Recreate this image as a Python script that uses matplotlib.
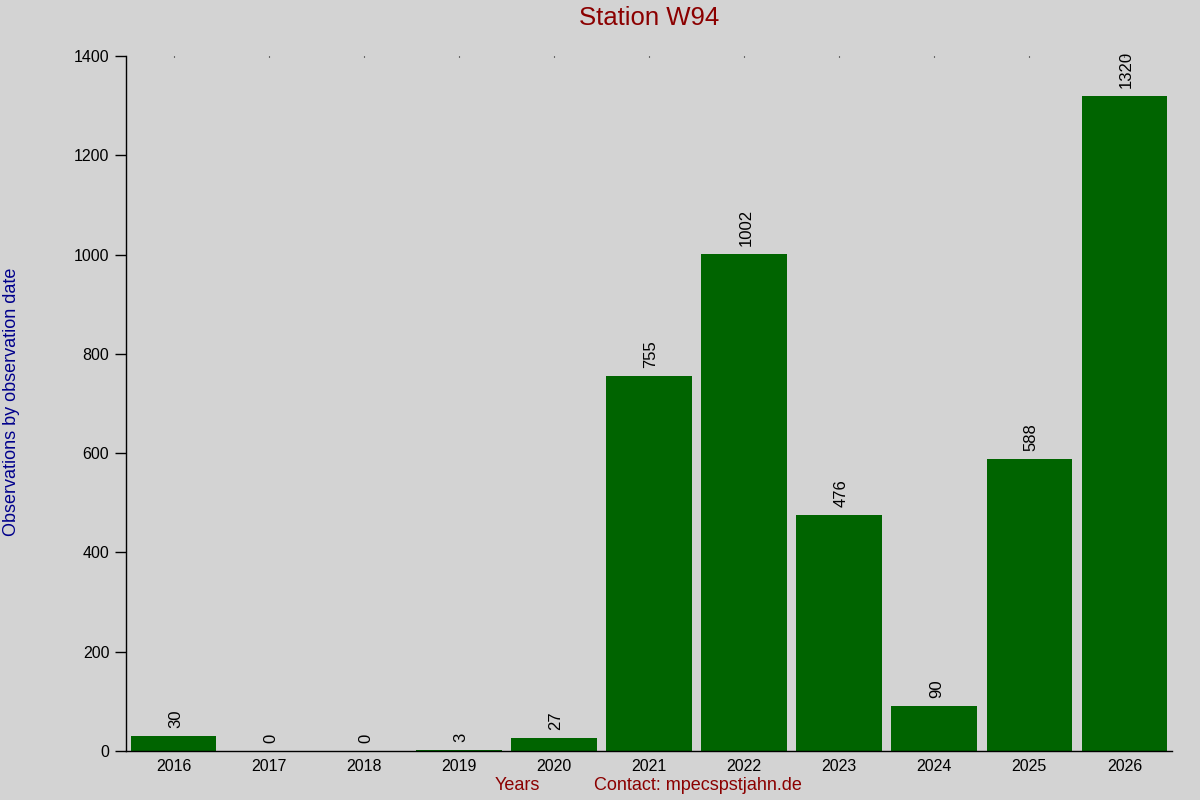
import matplotlib
matplotlib.use("Agg")
import matplotlib.pyplot as plt
import numpy as np

years = ["2016", "2017", "2018", "2019", "2020", "2021", "2022", "2023", "2024", "2025", "2026"]
counts = [30, 0, 0, 3, 27, 755, 1002, 476, 90, 588, 1320]
yticks = [0, 200, 400, 600, 800, 1000, 1200, 1400]

plt.rcParams['font.family'] = ['Liberation Sans', 'DejaVu Sans']

bg = '#d3d3d3'
fig = plt.figure(figsize=(12, 8), dpi=100, facecolor=bg)
ax = fig.add_axes([126/1200, 1-751/800, (1172-126)/1200, (751-56)/800])
ax.set_facecolor(bg)

x = np.arange(len(years))
ax.bar(x, counts, width=0.9, color='#006400')
ax.set_xlim(-0.5, len(years) - 0.5)
ax.set_ylim(0, 1400)

for xi, v in zip(x, counts):
    ax.annotate(str(v), (xi, v), xytext=(2, 8), textcoords='offset pixels',
                rotation=90, ha='center', va='bottom', fontsize=12, color='black')

ax.set_xticks(x)
ax.set_xticklabels(years, fontsize=11.5)
ax.tick_params(axis='x', length=0, pad=6, bottom=False, top=True, labelbottom=True, labeltop=False)
ax.tick_params(axis='x', which='major', direction='in', length=1, width=0.8)
ax.set_yticks(yticks)
ax.set_yticklabels([str(t) for t in yticks], fontsize=11.5)
ax.tick_params(axis='y', length=8, width=1, pad=4, direction='out')

for s in ['top', 'right']:
    ax.spines[s].set_visible(False)
for s in ['left', 'bottom']:
    ax.spines[s].set_linewidth(1)

fig.text(649/1200, 1-18/800, "Station W94", ha='center', va='center', fontsize=18.5, color='#8b0000')
fig.text(12/1200, 1-402/800, "Observations by observation date", rotation=90,
         ha='center', va='center', fontsize=13, color='#00008b')
fig.text(517/1200, 1-786/800, "Years", ha='center', va='center', fontsize=13, color='#8b0000')
fig.text(698/1200, 1-786/800, "Contact: mpecspstjahn.de", ha='center', va='center', fontsize=13, color='#8b0000')

fig.savefig("out.png", dpi=100, facecolor=bg)
